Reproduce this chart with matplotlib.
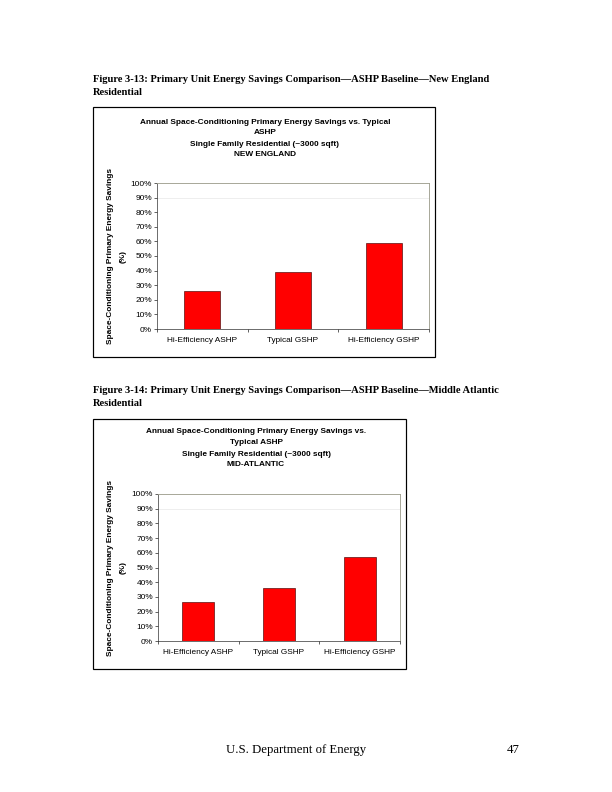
import numpy as np
import matplotlib.pyplot as plt
from matplotlib.patches import Rectangle

# Данные
categories = ['Hi-Efficiency ASHP', 'Typical GSHP', 'Hi-Efficiency GSHP']
savings_ne = [0.26, 0.387, 0.588]
savings_ma = [0.268, 0.358, 0.571]
yticks = np.arange(0, 1.01, 0.1)
ytick_labels = ['%d%%' % round(v * 100) for v in yticks]

caption_ne = ['Figure 3-13: Primary Unit Energy Savings Comparison\u2014ASHP Baseline\u2014New England',
              'Residential']
caption_ma = ['Figure 3-14: Primary Unit Energy Savings Comparison\u2014ASHP Baseline\u2014Middle Atlantic',
              'Residential']
title_ne = ['Annual Space-Conditioning Primary Energy Savings vs. Typical', 'ASHP',
            'Single Family Residential (~3000 sqft)', 'NEW ENGLAND']
title_ma = ['Annual Space-Conditioning Primary Energy Savings vs.', 'Typical ASHP',
            'Single Family Residential (~3000 sqft)', 'MID-ATLANTIC']
ylabel = ['Space-Conditioning Primary Energy Savings', '(%)']

W, H = 612, 792
fig = plt.figure(figsize=(W / 72, H / 72), dpi=72)
sans = 'Liberation Sans'
serif = 'Liberation Serif'
fs = 8.2


def px(x0, y0, x1, y1):
    # пиксели -> доли фигуры
    return [x0 / W, 1 - y1 / H, (x1 - x0) / W, (y1 - y0) / H]


def chart(caption, cap_y, box, plot, title, title_cx, title_y, values):
    for i, line in enumerate(caption):
        fig.text(93 / W, 1 - (cap_y + i * 13.5) / H, line, fontsize=10.5,
                 fontweight='bold', family=serif, va='center', ha='left')
    bx0, by0, bx1, by1 = box
    fig.patches.append(Rectangle((bx0 / W, 1 - by1 / H), (bx1 - bx0) / W, (by1 - by0) / H,
                                 transform=fig.transFigure, fill=False,
                                 edgecolor='black', linewidth=1.2))
    for i, line in enumerate(title):
        fig.text(title_cx / W, 1 - (title_y + i * 11) / H, line, fontsize=fs,
                 fontweight='bold', family=sans, ha='center', va='center')
    ax = fig.add_axes(px(*plot))
    x = np.arange(len(categories))
    ax.bar(x, values, width=0.4, color='#ff0000', edgecolor='#400000', linewidth=0.6)
    ax.set_xlim(-0.5, len(categories) - 0.5)
    ax.set_ylim(0, 1)
    ax.set_yticks(yticks)
    ax.set_yticklabels(ytick_labels, fontsize=fs, family=sans)
    ax.set_xticks(x)
    ax.set_xticklabels(categories, fontsize=fs, family=sans)
    ax.set_xticks(np.arange(-0.5, len(categories)), minor=True)
    ax.tick_params(axis='x', which='major', length=0, pad=8)
    ax.tick_params(axis='x', which='minor', length=3, width=0.6, direction='out')
    ax.tick_params(axis='y', length=3, width=0.6, direction='out', pad=2)
    ax.axhline(0.9, color='#e4e4e4', linewidth=0.6, zorder=0)
    for s in ['left', 'bottom']:
        ax.spines[s].set_color('#333333')
        ax.spines[s].set_linewidth(0.7)
    for s in ['top', 'right']:
        ax.spines[s].set_color('#a0a090')
        ax.spines[s].set_linewidth(0.9)
    # подпись оси Y: две строки
    yc = 1 - (plot[1] + plot[3]) / 2 / H
    for i, line in enumerate(ylabel):
        fig.text((111 + i * 12) / W, yc, line, fontsize=fs, fontweight='bold',
                 family=sans, rotation=90, rotation_mode='anchor',
                 ha='center', va='center')
    return ax


chart(caption_ne, 79, (93, 107, 435, 357), (157, 183, 429, 329),
      title_ne, 265, 122, savings_ne)
chart(caption_ma, 390.5, (93, 419, 406, 669), (158, 494, 400, 641),
      title_ma, 256, 432, savings_ma)

fig.text(296 / W, 1 - 750 / H, 'U.S. Department of Energy', fontsize=12.8, family=serif,
         ha='center', va='center')
fig.text(520 / W, 1 - 750 / H, '47', fontsize=12.8, family=serif, ha='right', va='center')

plt.savefig('out.png', dpi=72)
plt.close()
